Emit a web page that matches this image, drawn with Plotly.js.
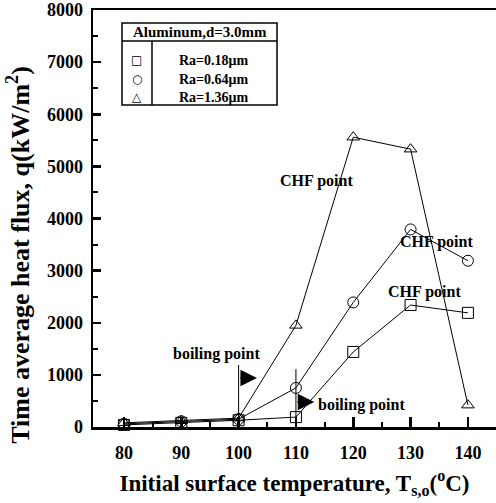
<!DOCTYPE html>
<html>
<head>
<meta charset="utf-8">
<script src="https://cdn.plot.ly/plotly-3.0.1.min.js"></script>
<style>html,body{margin:0;padding:0;background:#fff;}#chart{width:496px;height:503px;}</style>
</head>
<body>
<div id="chart"></div>
<script>
var temps = [80, 90, 100, 110, 120, 130, 140];
var flux018 = [40, 80, 130, 190, 1440, 2340, 2190];
var flux064 = [60, 110, 150, 750, 2390, 3790, 3190];
var flux136 = [80, 120, 170, 1950, 5560, 5330, 420];
var seriesNames = ['Ra=0.18\u03bcm', 'Ra=0.64\u03bcm', 'Ra=1.36\u03bcm'];
var legendSymbols = ['\u25a1', '\u25cb', '\u25b3'];
var legendHeader = 'Aluminum,d=3.0mm';
var xTitle = 'Initial surface temperature, T<sub>s,o</sub>(<sup>o</sup>C)';
var yTitle = 'Time average heat flux, q(kW/m<sup>2</sup>)';

var FONT = 'Liberation Serif, Times New Roman, serif';
function tr(y, sym, name) {
  return {
    x: temps, y: y, name: name, type: 'scatter', mode: 'lines+markers',
    line: {color: '#000', width: 1},
    marker: {symbol: sym, size: 11, color: '#000', line: {color: '#000', width: 1}},
    showlegend: false, cliponaxis: false
  };
}
var data = [
  tr(flux018, 'square-open', seriesNames[0]),
  tr(flux064, 'circle-open', seriesNames[1]),
  tr(flux136, 'triangle-up-open', seriesNames[2])
];

var ann = [];
function txt(x, y, t, size, xref, yref) {
  ann.push({x: x, y: y, xref: xref || 'x', yref: yref || 'y', text: t, showarrow: false,
    xanchor: 'center', yanchor: 'middle',
    font: {family: FONT, size: size || 16, color: '#000', weight: 'bold'}});
}
txt(113.5, 4720, 'CHF point');
txt(134.6, 3550, 'CHF point');
txt(132.5, 2590, 'CHF point');
txt(96.1, 1400, 'boiling point');
txt(121.4, 420, 'boiling point');
// arrows
function arr(x0, x1, y) {
  ann.push({x: x1, y: y, ax: x0, ay: y, xref: 'x', yref: 'y', axref: 'x', ayref: 'y',
    showarrow: true, arrowhead: 2, arrowsize: 2.2, arrowwidth: 1.5, arrowcolor: '#000', text: ''});
}
arr(100, 103.2, 940);
arr(110, 113.2, 480);

// legend box
var rowsY = [0.880, 0.8345, 0.791];
txt(0.2655, 0.947, legendHeader, 15, 'paper', 'paper');
for (var i = 0; i < 3; i++) {
  txt(0.300, rowsY[i], seriesNames[i], 14, 'paper', 'paper');
  ann.push({x: 0.109, y: rowsY[i], xref: 'paper', yref: 'paper', text: legendSymbols[i], showarrow: false,
    xanchor: 'center', yanchor: 'middle',
    font: {family: 'DejaVu Sans', size: 12, color: '#000'}});
}
// y-axis title (placed like the reference, lower than the plot centre)
ann.push({x: -0.184, y: 0.4125, xref: 'paper', yref: 'paper', text: yTitle, showarrow: false,
  textangle: -90, xanchor: 'center', yanchor: 'middle',
  font: {family: FONT, size: 26, color: '#000', weight: 'bold'}});

var shapes = [
  {type: 'rect', xref: 'paper', yref: 'paper', x0: 0.072, x1: 0.4566, y0: 0.772, y1: 0.969, line: {color: '#000', width: 1.5}},
  {type: 'line', xref: 'paper', yref: 'paper', x0: 0.072, x1: 0.4566, y0: 0.9257, y1: 0.9257, line: {color: '#000', width: 1.5}},
  {type: 'line', xref: 'paper', yref: 'paper', x0: 0.1464, x1: 0.1464, y0: 0.772, y1: 0.9257, line: {color: '#000', width: 1.5}},
  {type: 'line', xref: 'x', yref: 'y', x0: 100, x1: 100, y0: 150, y1: 1190, line: {color: '#000', width: 1}},
  {type: 'line', xref: 'x', yref: 'y', x0: 110, x1: 110, y0: 120, y1: 1110, line: {color: '#000', width: 1}}
];

var layout = {
  width: 496, height: 503,
  margin: {l: 93, r: 0, t: 10, b: 76},
  paper_bgcolor: '#fff', plot_bgcolor: '#fff',
  showlegend: false,
  font: {family: FONT, color: '#000'},
  xaxis: {
    range: [74.6, 144.9], tickvals: temps, ticktext: temps.map(String),
    showgrid: false, zeroline: false, showline: true, mirror: true, linecolor: '#000', linewidth: 2.5,
    ticks: 'inside', ticklen: 10, tickwidth: 2.5, tickcolor: '#000',
    minor: {tickvals: [85, 95, 105, 115, 125, 135], ticks: 'inside', ticklen: 5, tickwidth: 2, tickcolor: '#000', showgrid: false},
    tickfont: {family: FONT, size: 18, color: '#000', weight: 'bold'},
    ticklabelstandoff: 8,
    title: {text: xTitle, font: {family: FONT, size: 23, color: '#000', weight: 'bold'}, standoff: 13}
  },
  yaxis: {
    range: [0, 8000], dtick: 1000, tick0: 0,
    showgrid: false, zeroline: false, showline: true, linecolor: '#000', linewidth: 2.5,
    ticks: 'inside', ticklen: 8, tickwidth: 2.5, tickcolor: '#000',
    minor: {dtick: 500, ticks: 'inside', ticklen: 5, tickwidth: 2, tickcolor: '#000', showgrid: false},
    tickfont: {family: FONT, size: 18, color: '#000', weight: 'bold'},
    ticklabelstandoff: 4
  },
  annotations: ann,
  shapes: shapes
};
Plotly.newPlot('chart', data, layout, {displayModeBar: false, staticPlot: true});
</script>
</body>
</html>
